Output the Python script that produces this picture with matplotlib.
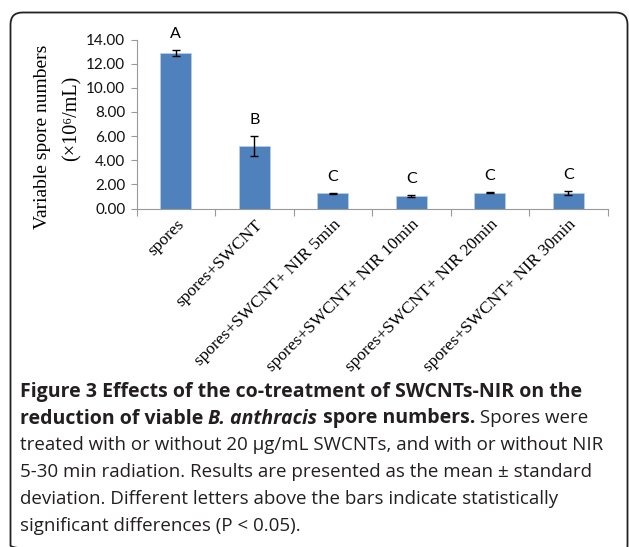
import matplotlib
matplotlib.use("Agg")
import matplotlib.pyplot as plt
from matplotlib.patches import FancyBboxPatch
import numpy as np

categories = ["spores", "spores+SWCNT", "spores+SWCNT+ NIR 5min",
              "spores+SWCNT+ NIR 10min", "spores+SWCNT+ NIR 20min",
              "spores+SWCNT+ NIR 30min"]
means = [12.85, 5.18, 1.25, 1.03, 1.31, 1.25]
errors = [0.25, 0.80, 0.05, 0.05, 0.06, 0.16]
letters = ["A", "B", "C", "C", "C", "C"]
yticks = [0, 2, 4, 6, 8, 10, 12, 14]

W, H = 629, 547
fig = plt.figure(figsize=(W / 100, H / 100), dpi=100)

# background card
bg = fig.add_axes([0, 0, 1, 1], zorder=-5)
bg.set_xlim(0, W)
bg.set_ylim(H, 0)
bg.axis("off")
card = FancyBboxPatch((10.5, 12.5), 617, 545, boxstyle="round,pad=0,rounding_size=12",
                      fill=False, edgecolor="#222222", linewidth=1.3)
bg.add_patch(card)

# chart axes
l, r = 136.5 / W, 607.5 / W
b, t = (H - 208.5) / H, (H - 39.5) / H
ax = fig.add_axes([l, b, r - l, t - b])
x = np.arange(len(categories))
ax.bar(x, means, width=0.4, color="#4F81BD", edgecolor="#B9CDE5", linewidth=0.6, zorder=2)
ax.errorbar(x, means, yerr=errors, fmt="none", ecolor="black", elinewidth=1.0,
            capsize=3.2, capthick=1.0, zorder=3)
ax.set_xlim(-0.5, len(categories) - 0.5)
ax.set_ylim(0, 14)
ax.set_yticks(yticks)
ax.set_yticklabels([f"{v:.2f}" for v in yticks], family="Lato", fontsize=11, color="#111111")
ax.tick_params(axis="y", length=4, width=0.8, color="#999999", pad=4)
ax.set_xticks(x)
ax.set_xticklabels(categories, rotation=45, ha="right", rotation_mode="anchor",
                   family="Liberation Serif", fontsize=12.5)
ax.tick_params(axis="x", length=0, pad=6)
ax.set_xticks(np.arange(-0.5, len(categories)), minor=True)
ax.tick_params(axis="x", which="minor", length=5, width=0.8, color="#999999")
for s in ["top", "right"]:
    ax.spines[s].set_visible(False)
for s in ["left", "bottom"]:
    ax.spines[s].set_color("#999999")
    ax.spines[s].set_linewidth(0.8)

for xi, m, e, lt in zip(x, means, errors, letters):
    ax.text(xi, m + e + 1.35, lt, ha="center", va="center", family="Lato",
            fontsize=11.5, clip_on=False)

# y label (two lines)
fig.text(43 / W, 1 - 137 / H, "Variable spore numbers", rotation=90, ha="center", va="center",
         family=["Liberation Serif", "DejaVu Serif"], fontsize=14)
fig.text(72 / W, 1 - 118 / H, "(\u00d710\u2076/mL)", rotation=90, ha="center", va="center",
         family=["Liberation Serif", "DejaVu Serif"], fontsize=14.5)

# caption with mixed styles
caption = [
    [("Figure 3 Effects of the co-treatment of SWCNTs-NIR on the", "bold", "normal")],
    [("reduction of viable ", "bold", "normal"), ("B. anthracis", "bold", "italic"),
     (" spore numbers.", "bold", "normal"), (" Spores were", "normal", "normal")],
    [("treated with or without 20 µg/mL SWCNTs, and with or without NIR", "normal", "normal")],
    [("5-30 min radiation. Results are presented as the mean ± standard", "normal", "normal")],
    [("deviation. Different letters above the bars indicate statistically", "normal", "normal")],
    [("significant differences (P < 0.05).", "normal", "normal")],
]
fig.canvas.draw()
renderer = fig.canvas.get_renderer()
y0 = 389
for i, segs in enumerate(caption):
    xp = 20
    yp = y0 + 27 * i
    for txt, wt, st in segs:
        fs = 14 if wt == "bold" else 13.5
        tt = bg.text(xp, yp, txt, ha="left", va="center_baseline", family="Open Sans",
                     fontweight=wt, fontstyle=st, fontsize=fs, color="#231F20")
        bb = tt.get_window_extent(renderer)
        xp += bb.width

fig.savefig("out.png", dpi=100)
